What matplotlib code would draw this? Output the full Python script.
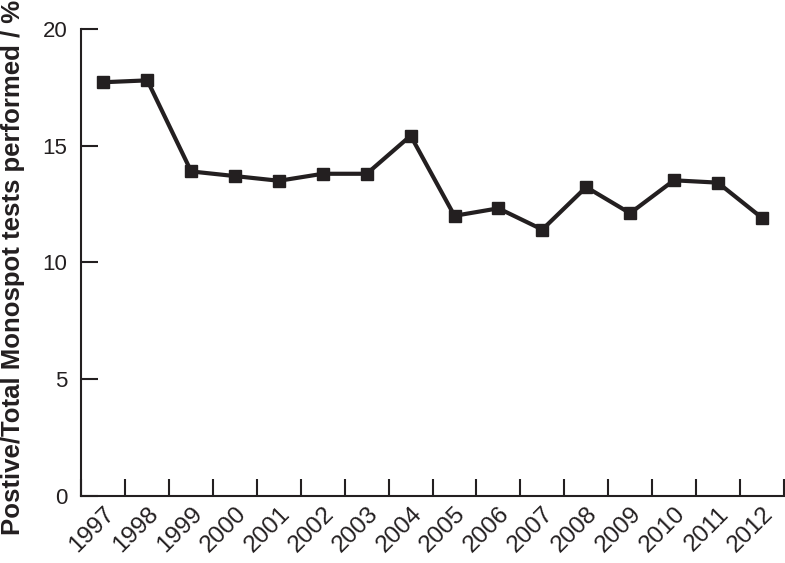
import matplotlib
matplotlib.use("Agg")
import matplotlib.pyplot as plt
import numpy as np

years = ["1997", "1998", "1999", "2000", "2001", "2002", "2003", "2004",
         "2005", "2006", "2007", "2008", "2009", "2010", "2011", "2012"]
values = [17.72, 17.8, 13.9, 13.7, 13.5, 13.8, 13.8, 15.43,
          12.0, 12.32, 11.41, 13.23, 12.11, 13.52, 13.42, 11.92]
yticks = [0, 5, 10, 15, 20]

ink = "#231f20"
plt.rcParams['font.family'] = ['Liberation Sans', 'DejaVu Sans']

fig = plt.figure(figsize=(7.85, 5.63), dpi=100)
ax = fig.add_axes([0.1038, 0.119, 0.8945, 0.8295])

x = np.arange(len(years))
ax.plot(x, values, color=ink, lw=3.0, marker="s", markersize=8,
        markerfacecolor=ink, markeredgecolor=ink, solid_joinstyle="miter")

ax.set_xlim(-0.5, len(years) - 0.5)
ax.set_ylim(0, 20)
ax.set_yticks(yticks)
ax.set_yticklabels([str(v) for v in yticks], fontsize=16, color=ink)

ax.set_xticks(x)
ax.set_xticklabels(years, fontsize=17.5, color=ink, rotation=45,
                   ha="right", va="top", rotation_mode="anchor")
ax.set_xticks(np.arange(len(years) + 1) - 0.5, minor=True)
ax.tick_params(axis="x", which="major", length=0, pad=5)
ax.tick_params(axis="x", which="minor", direction="in", length=12, width=1.5, color=ink)
ax.tick_params(axis="y", which="major", direction="in", length=12, width=1.5, color=ink, pad=10)

for s in ["top", "right"]:
    ax.spines[s].set_visible(False)
for s in ["left", "bottom"]:
    ax.spines[s].set_linewidth(1.5)
    ax.spines[s].set_color(ink)

ax.set_ylabel("Postive/Total Monospot tests performed / %", fontsize=18.5,
              fontweight="bold", color=ink)
ax.yaxis.set_label_coords(-0.0805, 0.49)

fig.savefig("out.png", dpi=100)
